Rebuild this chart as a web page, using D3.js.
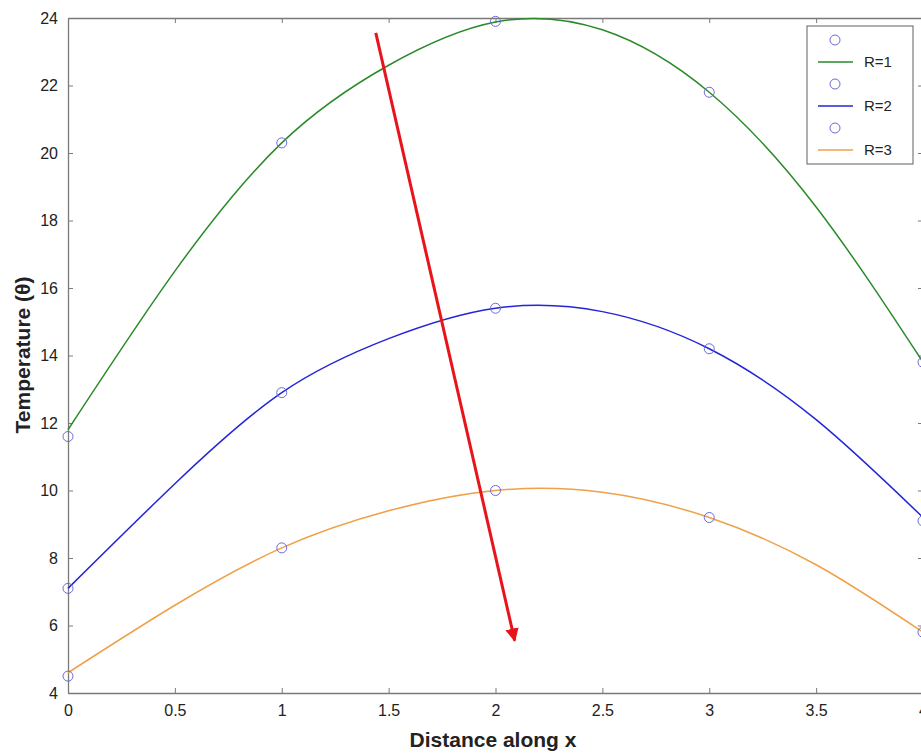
<!DOCTYPE html>
<html>
<head>
<meta charset="utf-8">
<script src="https://cdn.jsdelivr.net/npm/d3@7"></script>
<style>
	body { margin: 0; background: #fff; }
	text { font-family: "Liberation Sans", Arial, sans-serif; }
</style>
</head>
<body>
<svg id="chart" width="921" height="753"></svg>
<script>
// measured points (circles)
var xPoints = [0, 1, 2, 3, 4];
var r1Points = [11.6, 20.3, 23.9, 21.8, 13.8];
var r2Points = [7.1, 12.9, 15.4, 14.2, 9.1];
var r3Points = [4.5, 8.3, 10.0, 9.2, 5.8];

// smooth curves
var xCurve = [0, 0.5, 1, 1.5, 2, 2.5, 3, 3.5, 4];
var r1Curve = [11.8, 16.5, 20.3, 22.6, 23.88, 23.65, 21.8, 18.4, 13.8];
var r2Curve = [7.1, 10.2, 12.9, 14.5, 15.4, 15.3, 14.2, 12.1, 9.2];
var r3Curve = [4.6, 6.6, 8.3, 9.4, 10.0, 9.95, 9.2, 7.8, 5.8];

var seriesNames = ["R=1", "R=2", "R=3"];
var xTicks = [0, 0.5, 1, 1.5, 2, 2.5, 3, 3.5, 4];
var yTicks = [4, 6, 8, 10, 12, 14, 16, 18, 20, 22, 24];

// arrow, in data units
var arrowStart = [1.44, 23.56];
var arrowEnd = [2.09, 5.55];

var colors = ["#2a8a2a", "#2424d8", "#f0a048"];
var markerColor = "#6a6ad8";

var svg = d3.select("#chart"),
	margin = { top: 18, left: 68 },
	width = 855,
	height = 675;

var x = d3.scaleLinear().domain([0, 4]).range([0, width]);
var y = d3.scaleLinear().domain([4, 24]).range([height, 0]);

var g = svg.append("g")
	.attr("transform", "translate(" + margin.left + "," + margin.top + ")");

svg.append("defs").append("marker")
	.attr("id", "head")
	.attr("viewBox", "0 0 10 10")
	.attr("refX", 9)
	.attr("refY", 5)
	.attr("markerWidth", 4.5)
	.attr("markerHeight", 4.5)
	.attr("orient", "auto")
	.append("path")
	.attr("d", "M0,0 L10,5 L0,10 Z")
	.attr("fill", "#e8141c");

// axes (MATLAB box style, ticks inward)
function styleAxis(sel) {
	sel.select(".domain").attr("stroke", "#7a7a7a").attr("stroke-width", 1.3);
	sel.selectAll(".tick line").attr("stroke", "#7a7a7a");
	sel.selectAll(".tick text").attr("fill", "#222").style("font-size", "16px");
}

g.append("g")
	.attr("transform", "translate(0," + height + ")")
	.call(d3.axisBottom(x).tickValues(xTicks).tickFormat(d3.format("")).tickSizeInner(-5).tickSizeOuter(0).tickPadding(12))
	.call(styleAxis);

g.append("g")
	.call(d3.axisTop(x).tickValues(xTicks).tickFormat("").tickSizeInner(-5).tickSizeOuter(0))
	.call(styleAxis);

g.append("g")
	.call(d3.axisLeft(y).tickValues(yTicks).tickSizeInner(-5).tickSizeOuter(0).tickPadding(10))
	.call(styleAxis);

g.append("g")
	.attr("transform", "translate(" + width + ",0)")
	.call(d3.axisRight(y).tickValues(yTicks).tickFormat("").tickSizeInner(-5).tickSizeOuter(0))
	.call(styleAxis);

var line = d3.line()
	.x(function (d) { return x(d[0]); })
	.y(function (d) { return y(d[1]); })
	.curve(d3.curveNatural);

[r1Curve, r2Curve, r3Curve].forEach(function (vals, i) {
	g.append("path")
		.datum(xCurve.map(function (v, j) { return [v, vals[j]]; }))
		.attr("d", line)
		.attr("fill", "none")
		.attr("stroke", colors[i])
		.attr("stroke-width", 1.5);
});

[r1Points, r2Points, r3Points].forEach(function (vals) {
	g.selectAll(null)
		.data(xPoints.map(function (v, j) { return [v, vals[j]]; }))
		.enter()
		.append("circle")
		.attr("cx", function (d) { return x(d[0]); })
		.attr("cy", function (d) { return y(d[1]); })
		.attr("r", 5)
		.attr("fill", "none")
		.attr("stroke", markerColor)
		.attr("stroke-width", 1);
});

g.append("line")
	.attr("x1", x(arrowStart[0]))
	.attr("y1", y(arrowStart[1]))
	.attr("x2", x(arrowEnd[0]))
	.attr("y2", y(arrowEnd[1]))
	.attr("stroke", "#e8141c")
	.attr("stroke-width", 3)
	.attr("marker-end", "url(#head)");

// legend
var legend = svg.append("g").attr("transform", "translate(807,26)");
legend.append("rect")
	.attr("width", 106)
	.attr("height", 138)
	.attr("fill", "#fff")
	.attr("stroke", "#7a7a7a")
	.attr("stroke-width", 1.2);

seriesNames.forEach(function (name, i) {
	var top = 14 + i * 44;
	legend.append("circle")
		.attr("cx", 28)
		.attr("cy", top)
		.attr("r", 5)
		.attr("fill", "none")
		.attr("stroke", markerColor);
	legend.append("line")
		.attr("x1", 11)
		.attr("x2", 46)
		.attr("y1", top + 22)
		.attr("y2", top + 22)
		.attr("stroke", colors[i])
		.attr("stroke-width", 1.5);
	legend.append("text")
		.attr("x", 57)
		.attr("y", top + 27)
		.style("font-size", "15px")
		.attr("fill", "#222")
		.text(name);
});

svg.append("text")
	.attr("x", margin.left + 425)
	.attr("y", 747)
	.attr("text-anchor", "middle")
	.style("font-size", "21px")
	.style("font-weight", "bold")
	.attr("fill", "#222")
	.text("Distance along x");

svg.append("text")
	.attr("transform", "translate(30," + (margin.top + 337) + ") rotate(-90)")
	.attr("text-anchor", "middle")
	.style("font-size", "21px")
	.style("font-weight", "bold")
	.attr("fill", "#222")
	.text("Temperature (\u03b8)");
</script>
</body>
</html>
